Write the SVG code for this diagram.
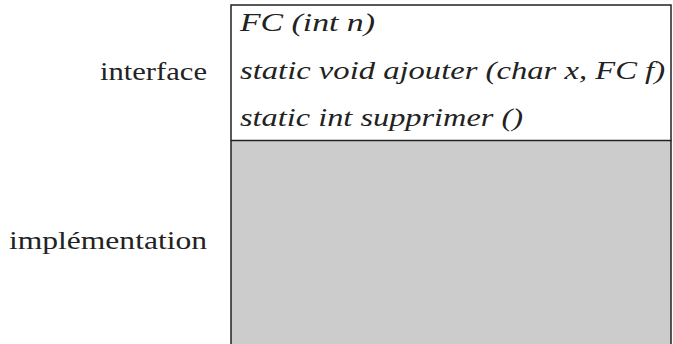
<svg xmlns="http://www.w3.org/2000/svg" width="673" height="344" viewBox="0 0 673 344">
<style>
.lbl{font-family:"Liberation Serif","Times New Roman",serif;font-size:25px;fill:#222}
.op{font-family:"Liberation Serif","Times New Roman",serif;font-size:25px;font-style:italic;fill:#222}
.ln{stroke:#222;stroke-width:1.5;fill:none}
</style>
<rect x="0" y="0" width="673" height="344" fill="#fff"/>
<g id="implementation">
<rect x="231" y="140.5" width="440" height="204" fill="#cccccc"/>
<line class="ln" x1="231" y1="140.5" x2="231" y2="344"/>
<line class="ln" x1="671" y1="140.5" x2="671" y2="344"/>
<text class="lbl" x="207" y="249" text-anchor="end" textLength="198" lengthAdjust="spacingAndGlyphs">implémentation</text>
</g>
<g id="interface">
<rect class="ln" x="231" y="5" width="440" height="135.5"/>
<text class="lbl" x="207" y="80" text-anchor="end" textLength="107" lengthAdjust="spacingAndGlyphs">interface</text>
<text class="op" x="240" y="31" textLength="135" lengthAdjust="spacingAndGlyphs">FC (int n)</text>
<text class="op" x="240" y="79" textLength="425" lengthAdjust="spacingAndGlyphs">static void ajouter (char x, FC f)</text>
<text class="op" x="240" y="126" textLength="283" lengthAdjust="spacingAndGlyphs">static int supprimer ()</text>
</g>
</svg>
